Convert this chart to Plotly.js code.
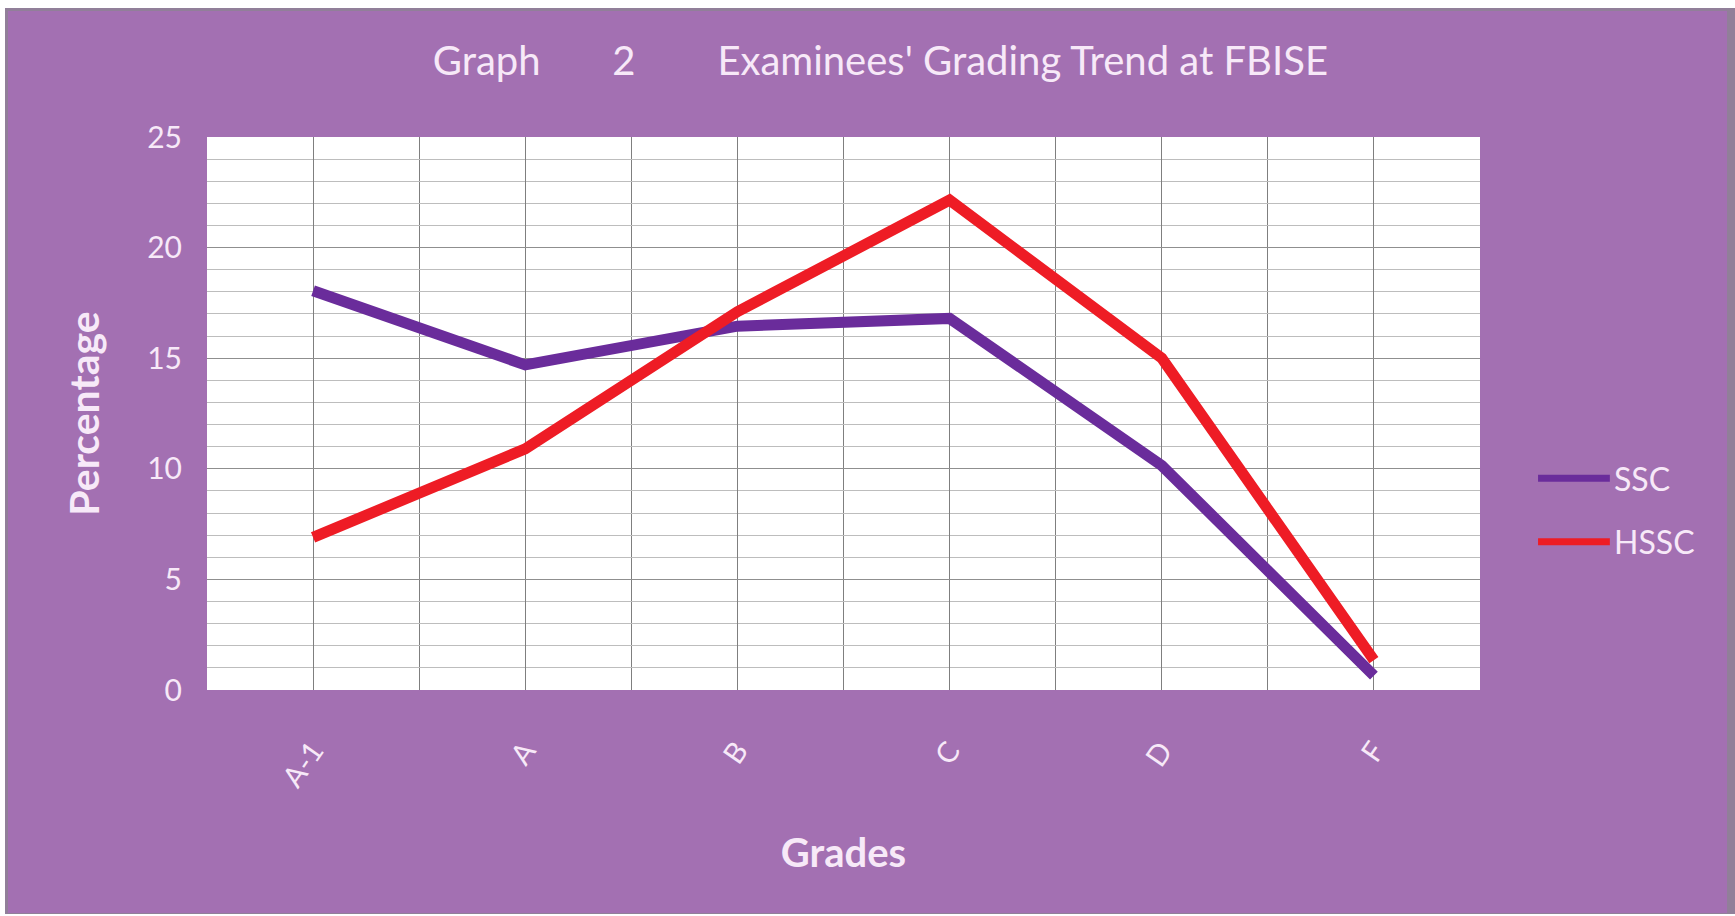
<!DOCTYPE html>
<html>
<head>
<meta charset="utf-8">
<script src="https://cdn.plot.ly/plotly-3.0.1.min.js"></script>
<style>
html,body{margin:0;padding:0;background:#ffffff;}
#frame{position:absolute;left:5px;top:8px;width:1730px;height:906px;background:#917f99;}
#chart{position:absolute;left:8px;top:11px;width:1719px;height:902px;}
</style>
</head>
<body>
<div id="frame"></div>
<div id="chart"></div>
<script>
const categories = ["A-1", "A", "B", "C", "D", "F"];
const sscValues  = [18.05, 14.7, 16.45, 16.8, 10.15, 0.65];
const hsscValues = [6.9, 10.9, 17.1, 22.15, 15.0, 1.35];
const seriesNames = ["SSC", "HSSC"];
const seriesColors = ["#6A2C9B", "#EE1C25"];
const yTicks = [0, 5, 10, 15, 20, 25];

const xIdx = categories.map((c, i) => i);
const bg = "#A370B2";
const txt = "#F7E9F8";

const traces = [
  {x: xIdx, y: sscValues, name: seriesNames[0], type: "scatter", mode: "lines",
   line: {color: seriesColors[0], width: 11}},
  {x: xIdx, y: hsscValues, name: seriesNames[1], type: "scatter", mode: "lines",
   line: {color: seriesColors[1], width: 11}}
];

// legend drawn as paper-referenced shapes + labels (long line swatches like the original)
const legendY = [0.383, 0.268];
const legendShapes = seriesNames.map((n, i) => ({
  type: "line", xref: "paper", yref: "paper", x0: 1.0456, x1: 1.102,
  y0: legendY[i], y1: legendY[i], line: {color: seriesColors[i], width: 7}
}));
const legendLabels = seriesNames.map((n, i) => ({
  text: n, xref: "paper", yref: "paper", x: 1.104, y: legendY[i],
  xanchor: "left", yanchor: "middle", showarrow: false,
  font: {size: 32, color: txt}
}));

const NB = "\u00A0";
const layout = {
  width: 1719, height: 902,
  paper_bgcolor: bg, plot_bgcolor: "#FFFFFF",
  margin: {l: 199, r: 247, t: 126, b: 223, pad: 0},
  font: {family: "Lato, 'Open Sans', sans-serif", color: txt},
  title: {text: "Graph" + NB.repeat(7) + "2" + NB.repeat(8) + "Examinees' Grading Trend at FBISE",
          font: {size: 40, color: txt}, xref: "paper", x: 0.529, xanchor: "center",
          y: 0.9446, yanchor: "middle"},
  xaxis: {
    range: [-0.5, 5.5], tickmode: "array", tickvals: xIdx, ticktext: categories,
    tickangle: -55, tickfont: {size: 29, color: txt},
    showgrid: true, gridcolor: "#7f7f7f", gridwidth: 1,
    minor: {tick0: 0.5, dtick: 1, showgrid: true, gridcolor: "#7f7f7f", gridwidth: 1},
    zeroline: false, showline: false, ticks: "", ticklabelstandoff: 37,
    title: {text: "<b>Grades</b>", font: {size: 40, color: txt}, standoff: 47},
    fixedrange: true
  },
  yaxis: {
    range: [0, 25], tickmode: "array", tickvals: yTicks,
    tickfont: {size: 30, color: txt},
    showgrid: true, gridcolor: "#8f8f8f", gridwidth: 1,
    minor: {dtick: 1, showgrid: true, gridcolor: "#bdbdbd", gridwidth: 1},
    zeroline: false, showline: false, ticks: "", ticklabelstandoff: 24,
    title: {text: "<b>Percentage</b>", font: {size: 41, color: txt}, standoff: 34},
    fixedrange: true
  },
  showlegend: false,
  shapes: legendShapes,
  annotations: legendLabels
};

Plotly.newPlot("chart", traces, layout, {displayModeBar: false, staticPlot: true});
</script>
</body>
</html>
